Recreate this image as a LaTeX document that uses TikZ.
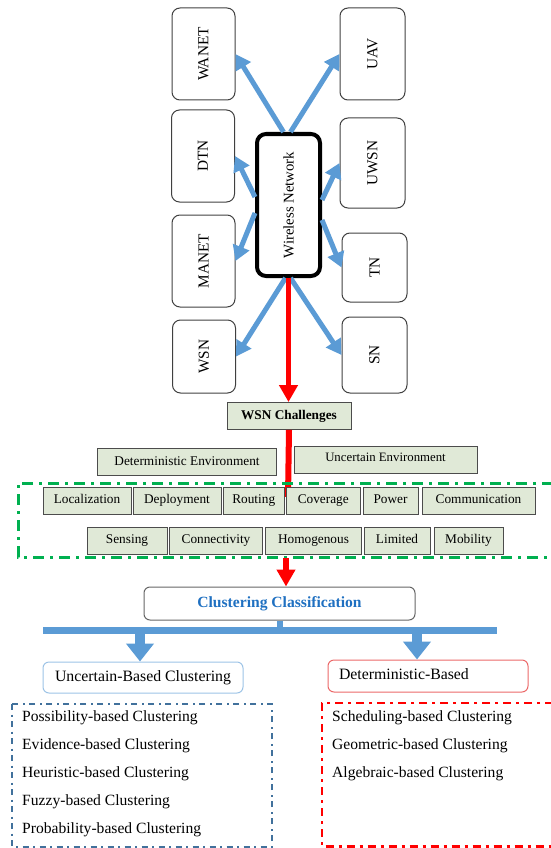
\documentclass[tikz,border=0pt]{standalone}
\usepackage{fontspec}
\setmainfont{Liberation Serif}
\usepackage{tikz}
\usetikzlibrary{arrows.meta,calc}

\definecolor{netblue}{RGB}{91,155,213}
\definecolor{boxgreen}{RGB}{224,233,215}
\definecolor{dashgreen}{RGB}{0,176,80}
\definecolor{ccblue}{RGB}{31,112,193}
\definecolor{uncline}{RGB}{157,195,230}
\definecolor{detline}{RGB}{235,105,105}
\definecolor{dashblue}{RGB}{65,113,156}

\tikzset{
  netbox/.style={draw=black!75, line width=1pt, rounded corners=8pt, minimum width=63pt, inner sep=0pt, font=\fontsize{15.3}{18}\selectfont},
  hubbox/.style={draw=black, line width=4pt, rounded corners=9pt, minimum width=63pt, minimum height=142pt, inner sep=0pt, font=\fontsize{14.8}{17}\selectfont},
  netarrow/.style={draw=netblue, line width=5pt, -{Triangle[length=15pt,width=17pt]}},
  redarrow/.style={draw=red, line width=5.5pt, -{Triangle[length=17pt,width=18pt]}},
  chbox/.style={draw=black!70, line width=0.9pt, fill=boxgreen, minimum height=27pt, inner sep=0pt, text height=9pt, text depth=3pt, font=\fontsize{13.3}{15}\selectfont},
  forkarrow/.style={draw=netblue, line width=10pt, -{Triangle[length=18pt,width=27pt]}},
  classbox/.style={rounded corners=6pt, line width=1pt, minimum width=200pt, inner sep=0pt, text height=10.5pt, text depth=3.5pt, font=\fontsize{15.8}{18}\selectfont},
  item/.style={anchor=west, inner sep=0pt, text height=10.5pt, text depth=3.5pt, font=\fontsize{15.6}{18}\selectfont}
}

\begin{document}
\begin{tikzpicture}[x=1pt,y=-1pt]
  \useasboundingbox (0,0) rectangle (550,848);

  % Center node
  \node[hubbox] (hub) at (288.5,205) {\rotatebox{90}{Wireless Network}};

  % Network nodes
  \node[netbox, minimum height=92pt] (wanet) at (203.5,54) {\rotatebox{90}{WANET}};
  \node[netbox, minimum height=92pt] (dtn) at (203,156) {\rotatebox{90}{DTN}};
  \node[netbox, minimum height=92pt] (manet) at (203.5,261) {\rotatebox{90}{MANET}};
  \node[netbox, minimum height=73pt] (wsn) at (204,356.5) {\rotatebox{90}{WSN}};
  \node[netbox, minimum height=92pt, minimum width=65pt] (uav) at (372.5,54) {\rotatebox{90}{UAV}};
  \node[netbox, minimum height=90pt, minimum width=65pt] (uwsn) at (372.5,163) {\rotatebox{90}{UWSN}};
  \node[netbox, minimum height=69pt, minimum width=65pt] (tn) at (374.5,267.5) {\rotatebox{90}{TN}};
  \node[netbox, minimum height=76pt, minimum width=65pt] (sn) at (374.5,355) {\rotatebox{90}{SN}};

  % Arrows
  \draw[netarrow] ([xshift=-5pt]hub.north) -- (wanet.east);
  \draw[netarrow] ([xshift=2pt]hub.north) -- (uav.west);
  \draw[netarrow] ([yshift=8pt]hub.west) -- (dtn.east);
  \draw[netarrow] ([yshift=-8pt]hub.west) -- (manet.east);
  \draw[netarrow] ([yshift=5pt]hub.east) -- (uwsn.west);
  \draw[netarrow] ([yshift=-15pt]hub.east) -- (tn.west);
  \draw[netarrow] ([xshift=-3pt]hub.south) -- (wsn.east);
  \draw[netarrow] ([xshift=2pt]hub.south) -- (sn.west);

  % Challenges
  \node[chbox, minimum width=124pt, font=\fontsize{13.3}{15}\selectfont\bfseries] (challenges) at (289,416) {WSN Challenges};
  \draw[redarrow] (hub.south) -- (hub.south |- challenges.north);

  \node[chbox, minimum width=179pt] (detenv) at (187,462) {Deterministic Environment};
  \node[chbox, minimum width=183pt, font=\fontsize{12.8}{15}\selectfont] (uncenv) at (385.5,460) {\raisebox{2pt}{Uncertain Environment}};

  \coordinate (redend) at (288,497);
  \draw[red, line width=6pt] (challenges.south) -- (redend);

  \draw[dashgreen, line width=3pt, dash pattern=on 11pt off 6pt on 3pt off 6pt]
    (553,483) -- (18,483) -- (18,557) -- (553,557);

  \node[chbox, minimum width=88pt] (loc) at (87,500.5) {Localization};
  \node[chbox, minimum width=88pt] (dep) at (177,500.5) {Deployment};
  \node[chbox, minimum width=60.5pt] (rout) at (253.75,500.5) {Routing};
  \node[chbox, minimum width=73.5pt] (cov) at (323.25,500.5) {Coverage};
  \node[chbox, minimum width=55pt] (pow) at (390.5,500.5) {Power};
  \node[chbox, minimum width=113pt] (comm) at (478.5,500.5) {Communication};

  \node[chbox, minimum width=80pt] (sens) at (127,540.5) {Sensing};
  \node[chbox, minimum width=93pt] (conn) at (216,540.5) {Connectivity};
  \node[chbox, minimum width=96pt] (homo) at (313.5,540.5) {Homogenous};
  \node[chbox, minimum width=66pt] (lim) at (397,540.5) {Limited};
  \node[chbox, minimum width=69pt] (mob) at (468.5,540.5) {Mobility};

  % Classification
  \node[classbox, draw=black!60, minimum width=271pt, minimum height=33pt, text=ccblue, font=\fontsize{15.6}{18}\selectfont\bfseries] (cc) at (279.5,603.5) {Clustering Classification};
  \coordinate (gboxbot) at (286,558);
  \draw[redarrow] (gboxbot) -- (gboxbot |- cc.north);

  \coordinate (barL) at (43,630);
  \coordinate (barR) at (497,630);
  \draw[netblue, line width=7pt] (barL) -- (barR);
  \draw[netblue, line width=6pt] (cc.south) -- (cc.south |- barL);

  \node[classbox, draw=uncline, minimum height=31pt] (unc) at (143,677.5) {Uncertain-Based Clustering};
  \node[classbox, draw=detline, minimum height=32pt, text width=178pt, inner xsep=11pt, align=left] (det) at (428,676) {Deterministic-Based};

  \coordinate (forkA) at (140,630);
  \coordinate (forkB) at (417,630);
  \draw[forkarrow] (forkA) -- (forkA |- unc.north);
  \draw[forkarrow] (forkB) -- (forkB |- det.north);

  % Uncertain-based methods
  \draw[dashblue, line width=2pt, dash pattern=on 6pt off 4.5pt on 2pt off 4.5pt]
    (12,704) rectangle (272,846.5);
  \node[item] (possib) at (22,718) {Possibility-based Clustering};
  \node[item] (evid) at (22,746) {Evidence-based Clustering};
  \node[item] (heur) at (22,774) {Heuristic-based Clustering};
  \node[item] (fuzzy) at (22,802) {Fuzzy-based Clustering};
  \node[item] (prob) at (22,830) {Probability-based Clustering};

  % Deterministic-based methods
  \draw[red, line width=2.5pt, dash pattern=on 8pt off 5pt on 3pt off 5pt]
    (553,703) -- (322,703) -- (322,846.5) -- (553,846.5);
  \node[item] (sched) at (332,718) {Scheduling-based Clustering};
  \node[item] (geom) at (332,746) {Geometric-based Clustering};
  \node[item] (alg) at (332,774) {Algebraic-based Clustering};
\end{tikzpicture}
\end{document}
